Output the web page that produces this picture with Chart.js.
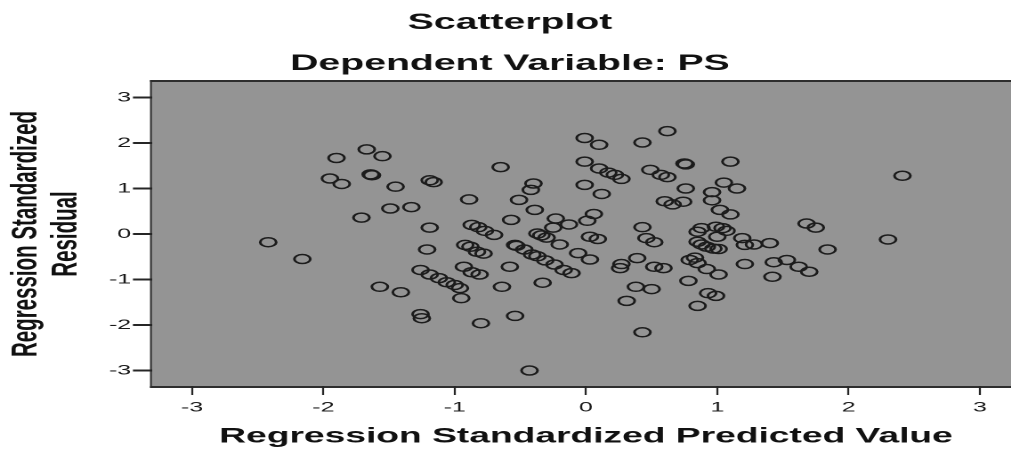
<!DOCTYPE html>
<html>
<head>
<meta charset="utf-8">
<script src="https://cdn.jsdelivr.net/npm/chart.js@4.4.1/dist/chart.umd.min.js"></script>
<style>
  html, body { margin: 0; padding: 0; background: #fff; overflow: hidden; width: 1011px; height: 449px; }
  #wrap { width: 580px; height: 449px; transform: scaleX(1.78); transform-origin: 0 0; }
</style>
</head>
<body>
<div id="wrap"><canvas id="c" width="580" height="449"></canvas></div>
<script>
// ---- data ----
const titleText = 'Scatterplot';
const subtitleText = 'Dependent Variable: PS';
const xAxisTitle = 'Regression Standardized Predicted Value';
const yAxisTitle = ['Regression Standardized', 'Residual'];

const xTickValues = [-3, -2, -1, 0, 1, 2, 3];
const xTickLabels = ['-3', '-2', '-1', '0', '1', '2', '3'];
const yTickValues = [-3, -2, -1, 0, 1, 2, 3];
const yTickLabels = ['-3', '-2', '-1', '0', '1', '2', '3'];

// predicted (x) values
const predicted = [
  -2.42, -2.16, -1.90, -1.67, -1.55, -1.95, -1.86, -1.64, -1.63, -1.45, -1.19, -1.16, -1.49, -1.33, -1.71, -1.19, -1.21, -1.57, -1.41, -1.26, -1.25,
  -1.26, -1.19, -1.12, -1.06, -1.00, -0.96, -0.95,
  -0.89, -0.65, -0.87, -0.82, -0.77, -0.70, -0.92, -0.88, -0.83, -0.78, -0.93, -0.87, -0.81, -0.64, -0.80, -0.54, -0.43, -0.58, -0.54, -0.57, -0.51, -0.40,
  -0.42, -0.39, -0.23, -0.13, -0.25, -0.37, -0.34, -0.30, -0.20, -0.53, -0.47, -0.41, -0.37, -0.31, -0.24, -0.17, -0.11, -0.33, -0.06, 0.03, 0.03, 0.09, 0.01, 0.06,
  -0.01, 0.10, -0.01, 0.10, 0.17, 0.22, 0.27, -0.01, 0.12, 0.43, 0.62, 0.49, 0.57, 0.62, 0.75, 0.76, 1.10, 1.05, 1.15, 0.76, 0.96, 0.96, 0.60, 0.66, 0.74, 1.02, 1.10,
  0.43, 0.46, 0.52, 0.39, 0.27, 0.26, 0.52, 0.59, 0.38, 0.50, 0.31, 0.43,
  0.88, 0.85, 0.99, 1.04, 1.07, 1.00, 0.85, 0.88, 0.92, 0.97, 1.01, 0.79, 0.83, 0.85, 0.92, 1.01, 0.78, 0.93, 0.99, 0.85,
  1.19, 1.21, 1.28, 1.40, 1.21, 1.43, 1.53, 1.62, 1.70, 1.42, 1.68, 1.75, 1.84, 2.30, 2.41
];
// residual (y) values
const residual = [
  -0.18, -0.55, 1.67, 1.86, 1.71, 1.22, 1.10, 1.31, 1.29, 1.04, 1.18, 1.14, 0.56, 0.59, 0.36, 0.14, -0.34, -1.16, -1.28, -1.76, -1.85,
  -0.79, -0.89, -0.97, -1.06, -1.12, -1.19, -1.41,
  0.76, 1.47, 0.20, 0.15, 0.07, -0.02, -0.24, -0.28, -0.39, -0.43, -0.72, -0.84, -0.89, -1.16, -1.96, -1.80, -3.00, -0.72, -0.24, 0.31, 0.75, 1.11,
  0.97, 0.53, 0.34, 0.21, 0.14, 0.01, -0.03, -0.08, -0.23, -0.26, -0.34, -0.45, -0.49, -0.58, -0.67, -0.79, -0.86, -1.07, -0.42, -0.56, -0.06, -0.11, 0.29, 0.44,
  2.11, 1.96, 1.59, 1.44, 1.35, 1.30, 1.21, 1.08, 0.88, 2.01, 2.26, 1.41, 1.30, 1.25, 1.55, 1.53, 1.59, 1.13, 1.00, 1.00, 0.92, 0.74, 0.72, 0.65, 0.71, 0.53, 0.43,
  0.15, -0.09, -0.18, -0.53, -0.66, -0.75, -0.72, -0.75, -1.16, -1.21, -1.47, -2.16,
  0.13, 0.05, 0.16, 0.13, 0.07, -0.06, -0.17, -0.23, -0.28, -0.32, -0.33, -0.57, -0.52, -0.64, -0.77, -0.89, -1.03, -1.30, -1.36, -1.58,
  -0.09, -0.24, -0.23, -0.20, -0.66, -0.62, -0.57, -0.72, -0.83, -0.94, 0.23, 0.14, -0.34, -0.12, 1.28
];

const points = predicted.map((x, i) => ({ x: x, y: residual[i] }));

const FONT = "'Liberation Sans', Arial, Helvetica, sans-serif";
const S = 1.78; // horizontal stretch of the reference image

// plot background + frame
const framePlugin = {
  id: 'frame',
  beforeDraw(chart) {
    const { ctx, chartArea: a } = chart;
    ctx.save();
    ctx.fillStyle = '#949494';
    ctx.fillRect(a.left, a.top, a.right - a.left, a.bottom - a.top);
    ctx.fillStyle = '#2e2e2e';
    const hw = 2;          // horizontal edges thickness
    const vw = 2 / S;      // vertical edges thickness (after stretch ~2px)
    ctx.fillRect(a.left - vw, a.top - hw, a.right - a.left + 2 * vw, hw);
    ctx.fillRect(a.left - vw, a.bottom, a.right - a.left + 2 * vw, hw);
    ctx.fillRect(a.left - vw, a.top - hw, vw, a.bottom - a.top + 2 * hw);
    ctx.fillRect(a.right, a.top - hw, vw, a.bottom - a.top + 2 * hw);
    ctx.restore();
  }
};

new Chart(document.getElementById('c'), {
  type: 'scatter',
  data: {
    datasets: [{
      data: points,
      pointStyle: 'circle',
      pointRadius: 4.5,
      pointBorderWidth: 1.5,
      pointBackgroundColor: 'rgba(0,0,0,0)',
      pointBorderColor: '#1c1c1c'
    }]
  },
  plugins: [framePlugin],
  options: {
    responsive: false,
    animation: false,
    devicePixelRatio: 2,
    events: [],
    layout: { padding: { left: 0, right: 7, top: 0, bottom: 0 } },
    plugins: {
      legend: { display: false },
      tooltip: { enabled: false },
      title: {
        display: true,
        text: titleText,
        color: '#111',
        font: { family: FONT, size: 22, weight: 'bold', lineHeight: 1.2 },
        padding: { top: 9.7, bottom: 0 }
      },
      subtitle: {
        display: true,
        text: subtitleText,
        color: '#111',
        font: { family: FONT, size: 22, weight: 'bold', lineHeight: 1.2 },
        padding: { top: 14.6, bottom: 4.9 }
      }
    },
    scales: {
      x: {
        type: 'linear',
        position: 'bottom',
        min: -3.305,
        max: 3.305,
        afterFit(scale) { scale.height = 63; scale.paddingLeft = 0; scale.paddingRight = 0; },
        afterBuildTicks(scale) { scale.ticks = xTickValues.map(v => ({ value: v })); },
        border: { display: false },
        grid: {
          display: true,
          drawOnChartArea: false,
          drawTicks: true,
          tickLength: 9,
          tickWidth: 2 / S,
          tickColor: '#262626'
        },
        ticks: {
          padding: 4,
          color: '#1a1a1a',
          font: { family: FONT, size: 14 },
          maxRotation: 0,
          autoSkip: false,
          callback: (v) => { const i = xTickValues.indexOf(v); return i >= 0 ? xTickLabels[i] : ''; }
        },
        title: {
          display: true,
          text: xAxisTitle,
          color: '#111',
          font: { family: FONT, size: 20.9, weight: 'bold', lineHeight: 1 },
          padding: { top: 0, bottom: 1.6 }
        }
      },
      y: {
        type: 'linear',
        position: 'left',
        min: -3.34,
        max: 3.34,
        afterFit(scale) { scale.width = 152 / S; scale.paddingTop = 0; scale.paddingBottom = 0; },
        afterBuildTicks(scale) { scale.ticks = yTickValues.map(v => ({ value: v })); },
        border: { display: false },
        grid: {
          display: true,
          drawOnChartArea: false,
          drawTicks: true,
          tickLength: 10.7,
          tickWidth: 2,
          tickColor: '#262626'
        },
        ticks: {
          padding: 1,
          color: '#1a1a1a',
          font: { family: FONT, size: 14 },
          autoSkip: false,
          callback: (v) => { const i = yTickValues.indexOf(v); return i >= 0 ? yTickLabels[i] : ''; }
        },
        title: {
          display: true,
          text: yAxisTitle,
          color: '#111',
          font: { family: FONT, size: 20.5, weight: 'bold', lineHeight: 1.1 },
          padding: { top: 3.4, bottom: 0 }
        }
      }
    }
  }
});
</script>
</body>
</html>
